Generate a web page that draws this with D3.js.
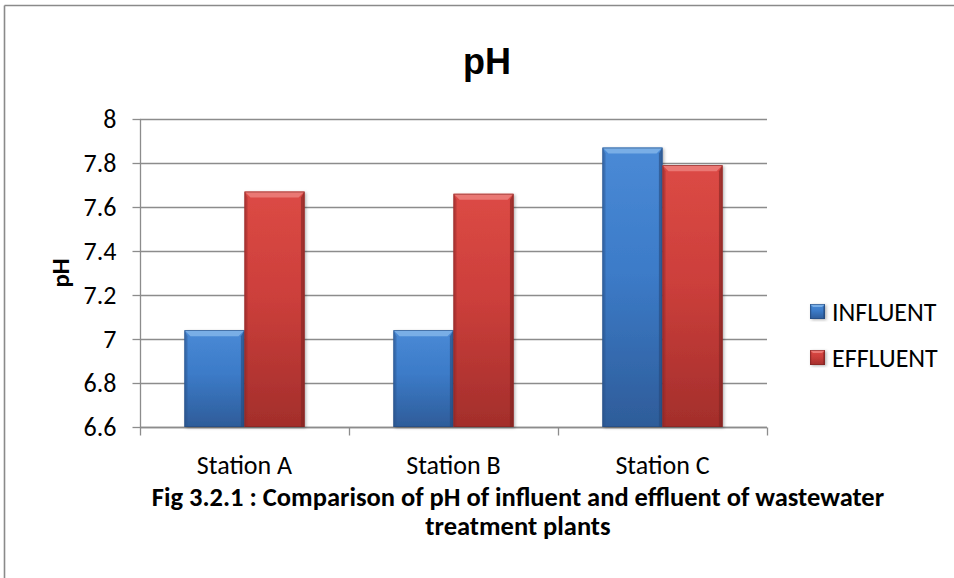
<!DOCTYPE html>
<html>
<head>
<meta charset="utf-8">
<script src="https://cdn.jsdelivr.net/npm/d3@7"></script>
<style>
  html, body { margin: 0; padding: 0; background: #ffffff; }
  svg { display: block; }
</style>
</head>
<body>
<div id="chart"></div>
<script>
// ---- data ----
const stations = ["Station A", "Station B", "Station C"];
const seriesNames = ["INFLUENT", "EFFLUENT"];
const influent = [7.04, 7.04, 7.87];
const effluent = [7.67, 7.66, 7.79];
const yTicks = [6.6, 6.8, 7.0, 7.2, 7.4, 7.6, 7.8, 8.0];
const yTickLabels = ["6.6", "6.8", "7", "7.2", "7.4", "7.6", "7.8", "8"];
const chartTitle = "pH";
const yAxisTitle = "pH";
const captionLines = ["Fig 3.2.1 : Comparison of pH of influent and effluent of wastewater", "treatment plants"];

// ---- layout ----
const W = 954, H = 578;
const plot = { left: 140, right: 767, top: 119, bottom: 427 };
const bodyFont = "Carlito, Lato, 'Open Sans', sans-serif";
const fs = 26;

const svg = d3.select("#chart").append("svg").attr("width", W).attr("height", H);

const defs = svg.append("defs");
const palettes = {
  INFLUENT: { top: "#4a8ad6", mid: "#3c7bc8", bot: "#2e5c99", bevel: "#79aee6", edge: "#2a548c", dark: "#24487a" },
  EFFLUENT: { top: "#dc4a45", mid: "#cc3f3b", bot: "#a32e2b", bevel: "#ea7874", edge: "#93292a", dark: "#7e2322" }
};
Object.entries(palettes).forEach(([k, p]) => {
  const g = defs.append("linearGradient").attr("id", "grad-" + k).attr("x1", 0).attr("y1", 0).attr("x2", 0).attr("y2", 1);
  g.append("stop").attr("offset", "0%").attr("stop-color", p.top);
  g.append("stop").attr("offset", "45%").attr("stop-color", p.mid);
  g.append("stop").attr("offset", "100%").attr("stop-color", p.bot);
});
const shadow = defs.append("filter").attr("id", "shadow").attr("x", "-20%").attr("y", "-20%").attr("width", "150%").attr("height", "140%");
shadow.append("feDropShadow").attr("dx", 1.5).attr("dy", 1).attr("stdDeviation", 1.5).attr("flood-color", "#000").attr("flood-opacity", 0.3);

// outer border (only top & left visible)
svg.append("line").attr("x1", 4.5).attr("y1", 5.5).attr("x2", W + 5).attr("y2", 5.5).attr("stroke", "#8a8a8a").attr("stroke-width", 1.6);
svg.append("line").attr("x1", 4.5).attr("y1", 5.5).attr("x2", 4.5).attr("y2", H + 5).attr("stroke", "#8a8a8a").attr("stroke-width", 1.6);

// scales
const x = d3.scaleBand().domain(stations).range([plot.left, plot.right]).paddingInner(0).paddingOuter(0);
const x1 = d3.scaleBand().domain(seriesNames).range([0, x.bandwidth()]).paddingInner(0).paddingOuter(0.74);
const y = d3.scaleLinear().domain([6.6, 8]).range([plot.bottom, plot.top]);

// gridlines
svg.append("g").selectAll("line").data(yTicks).join("line")
  .attr("x1", plot.left).attr("x2", plot.right)
  .attr("y1", d => Math.round(y(d)) + 0.5).attr("y2", d => Math.round(y(d)) + 0.5)
  .attr("stroke", "#8c8c8c").attr("stroke-width", 1.3);

// y axis
const yAxis = d3.axisLeft(y).tickValues(yTicks).tickSize(8).tickPadding(16)
  .tickFormat((d, i) => yTickLabels[i]);
const gy = svg.append("g").attr("transform", `translate(${plot.left + 0.5},0)`).call(yAxis);
gy.select(".domain").attr("stroke", "#8c8c8c").attr("stroke-width", 1.3).attr("d", `M0,${plot.top}V${plot.bottom + 0.5}`);
gy.selectAll(".tick line").attr("stroke", "#8c8c8c").attr("stroke-width", 1.3);
gy.selectAll(".tick").attr("transform", d => `translate(0,${Math.round(y(d)) + 0.5})`);
gy.selectAll(".tick text").attr("font-family", bodyFont).attr("font-size", fs).attr("fill", "#000");

// x axis
const gx = svg.append("g").attr("transform", `translate(0,${Math.round(plot.bottom) + 0.5})`);
gx.append("line").attr("x1", plot.left).attr("x2", plot.right).attr("stroke", "#8c8c8c").attr("stroke-width", 1.3);
const boundaries = stations.map(s => x(s)).concat([x(stations[stations.length - 1]) + x.bandwidth()]);
gx.selectAll("line.tk").data(boundaries).join("line").attr("class", "tk")
  .attr("x1", d => Math.round(d) + 0.5).attr("x2", d => Math.round(d) + 0.5).attr("y1", 0).attr("y2", 8)
  .attr("stroke", "#8c8c8c").attr("stroke-width", 1.3);
gx.selectAll("text").data(stations).join("text")
  .attr("x", d => x(d) + x.bandwidth() / 2).attr("y", 46)
  .attr("text-anchor", "middle").attr("font-family", bodyFont).attr("font-size", fs).attr("fill", "#000")
  .text(d => d);

// bevel bar drawing
function drawBevel(g, x0, x1v, yTop, yBot, key, b) {
  const p = palettes[key];
  g.append("rect").attr("x", x0).attr("y", yTop).attr("width", x1v - x0).attr("height", yBot - yTop)
    .attr("fill", `url(#grad-${key})`).attr("filter", "url(#shadow)");
  g.append("polygon").attr("points", [[x0, yTop], [x1v, yTop], [x1v - b, yTop + b], [x0 + b, yTop + b]].map(q => q.join(",")).join(" "))
    .attr("fill", p.bevel);
  g.append("polygon").attr("points", [[x0, yTop], [x0 + b * 0.5, yTop + b], [x0 + b * 0.5, yBot], [x0, yBot]].map(q => q.join(",")).join(" "))
    .attr("fill", p.edge).attr("opacity", 0.45);
  g.append("polygon").attr("points", [[x1v, yTop], [x1v - b * 0.6, yTop + b], [x1v - b * 0.6, yBot], [x1v, yBot]].map(q => q.join(",")).join(" "))
    .attr("fill", p.dark).attr("opacity", 0.6);
  g.append("rect").attr("x", x0 + 0.4).attr("y", yTop + 0.4).attr("width", x1v - x0 - 0.8).attr("height", yBot - yTop - 0.8)
    .attr("fill", "none").attr("stroke", p.dark).attr("stroke-width", 0.8).attr("opacity", 0.7);
}

const valuesBySeries = { INFLUENT: influent, EFFLUENT: effluent };
const barsG = svg.append("g");
stations.forEach((s, i) => {
  seriesNames.forEach(name => {
    const v = valuesBySeries[name][i];
    const bx = x(s) + x1(name);
    drawBevel(barsG.append("g"), bx, bx + x1.bandwidth(), y(v), y(6.6), name, 6);
  });
});

// title
svg.append("text").attr("x", 487).attr("y", 74).attr("text-anchor", "middle")
  .attr("font-family", "'Liberation Sans', Arial, sans-serif").attr("font-weight", "bold").attr("font-size", 36)
  .attr("fill", "#000").text(chartTitle);

// y axis title
svg.append("text").attr("transform", `translate(69,${(plot.top + plot.bottom) / 2}) rotate(-90)`)
  .attr("text-anchor", "middle").attr("font-family", bodyFont).attr("font-weight", "bold").attr("font-size", 25)
  .attr("fill", "#000").text(yAxisTitle);

// legend
const legend = svg.append("g");
seriesNames.forEach((name, i) => {
  const ly = 304 + i * 46;
  drawBevel(legend.append("g"), 810, 825, ly, ly + 15, name, 3);
  legend.append("text").attr("x", 832).attr("y", ly + 16.5).attr("font-family", bodyFont).attr("font-size", fs)
    .attr("fill", "#000").text(name);
});

// caption
svg.append("g").selectAll("text").data(captionLines).join("text")
  .attr("x", 518).attr("y", (d, i) => 506 + i * 29).attr("text-anchor", "middle")
  .attr("font-family", bodyFont).attr("font-weight", "bold").attr("font-size", 26.5).attr("fill", "#000")
  .text(d => d);
</script>
</body>
</html>
